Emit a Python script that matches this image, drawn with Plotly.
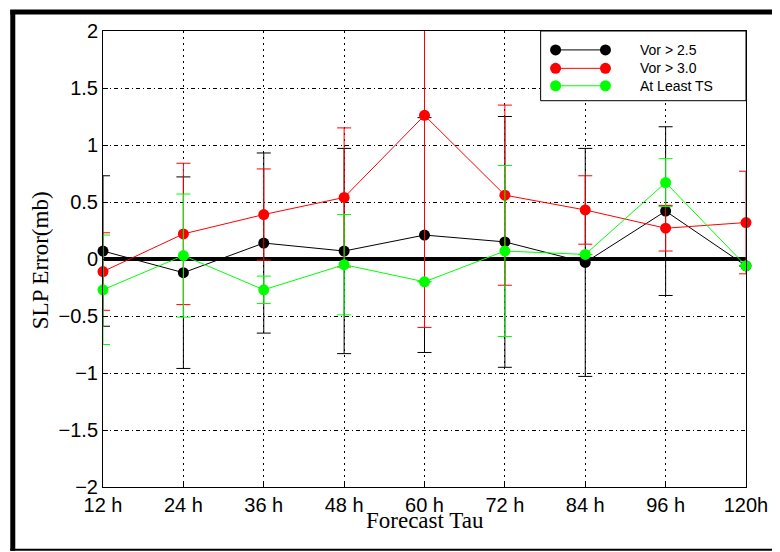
import plotly.graph_objects as go

# ---- data ----
tau_labels = ["12 h", "24 h", "36 h", "48 h", "60 h", "72 h", "84 h", "96 h", "120h"]

vor25 = [0.07, -0.12, 0.14, 0.07, 0.21, 0.15, -0.03, 0.42, -0.06]
vor25_err = [0.66, 0.84, 0.79, 0.90, 1.03, 1.10, 1.00, 0.74, None]

vor30 = [-0.11, 0.22, 0.39, 0.54, 1.26, 0.56, 0.43, 0.27, 0.32]
vor30_err = [0.34, 0.62, 0.40, 0.61, 1.86, 0.79, 0.30, 0.20, 0.45]

ts = [-0.27, 0.03, -0.27, -0.05, -0.20, 0.07, 0.04, 0.67, -0.06]
ts_err = [0.48, 0.54, 0.12, 0.44, None, 0.75, None, 0.21, None]

series_names = ["Vor > 2.5", "Vor > 3.0", "At Least TS"]
series_colors = ["#000000", "#ff0000", "#00ff00"]

# ---- geometry (pixels, in the 780x552 window) ----
OFF = 8  # page body margin
W, H = 780 - OFF, 552 - OFF
L, R, T, B = 103, 748, 29, 487
PW, PH = R - L, B - T


def px(x):
    return (x - L) / PW


def py(y):
    return (B - y) / PH


fig = go.Figure()

for vals, errs, col in zip([vor25, vor30, ts], [vor25_err, vor30_err, ts_err], series_colors):
    # error bars (clipped to the axes)
    fig.add_trace(go.Scatter(
        x=tau_labels, y=vals, mode="markers",
        marker=dict(size=1, color="rgba(0,0,0,0)"),
        error_y=dict(type="data", array=errs, visible=True, color=col, thickness=1, width=7),
        showlegend=False, hoverinfo="skip", cliponaxis=True,
    ))
    # line and markers
    fig.add_trace(go.Scatter(
        x=tau_labels, y=vals, mode="lines+markers",
        line=dict(color=col, width=1),
        marker=dict(size=11, color=col),
        showlegend=False, cliponaxis=False,
    ))

shapes = []
# legend box
shapes.append(dict(type="rect", xref="paper", yref="paper",
                   x0=px(542), x1=px(748), y0=py(99), y1=py(29),
                   fillcolor="white", line=dict(color="black", width=1), layer="above"))
annotations = []
for i, (name, col) in enumerate(zip(series_names, series_colors)):
    yy = [48, 66.5, 84][i]
    shapes.append(dict(type="line", xref="paper", yref="paper",
                       x0=px(557), x1=px(607), y0=py(yy), y1=py(yy),
                       line=dict(color=col, width=1), layer="above"))
    for cx in (557, 607):
        shapes.append(dict(type="circle", xref="paper", yref="paper",
                           xsizemode="pixel", ysizemode="pixel",
                           xanchor=px(cx), yanchor=py(yy),
                           x0=-5.5, x1=5.5, y0=-5.5, y1=5.5,
                           fillcolor=col, line=dict(color=col, width=0), layer="above"))
    annotations.append(dict(xref="paper", yref="paper", x=px(640), y=py(yy),
                            xanchor="left", yanchor="middle", showarrow=False,
                            text=name, font=dict(family="Liberation Sans, Arial", size=14, color="black")))

# outer frame
shapes.append(dict(type="line", xref="paper", yref="paper", x0=px(12.5), x1=px(12.5), y0=py(8), y1=py(551),
                   line=dict(color="black", width=5)))
shapes.append(dict(type="line", xref="paper", yref="paper", x0=px(10), x1=px(795), y0=py(10), y1=py(10),
                   line=dict(color="black", width=5)))
shapes.append(dict(type="line", xref="paper", yref="paper", x0=px(10), x1=px(795), y0=py(550), y1=py(550),
                   line=dict(color="black", width=2)))

# axis titles
annotations.append(dict(xref="paper", yref="paper", x=px(41), y=py(259), textangle=-90,
                        xanchor="center", yanchor="middle", showarrow=False,
                        text="SLP Error(mb)", font=dict(family="Liberation Serif, Times New Roman", size=23, color="black")))
annotations.append(dict(xref="paper", yref="paper", x=px(426), y=py(521),
                        xanchor="center", yanchor="middle", showarrow=False,
                        text="Forecast Tau", font=dict(family="Liberation Serif, Times New Roman", size=23, color="black")))

fig.update_layout(
    width=W, height=H,
    margin=dict(l=L - OFF, r=780 - R, t=T - OFF, b=552 - B, pad=0),
    paper_bgcolor="white", plot_bgcolor="white",
    font=dict(family="Liberation Sans, Arial", size=20, color="black"),
    shapes=shapes, annotations=annotations,
    showlegend=False,
)
fig.update_xaxes(
    type="category", range=[0, 8],
    showline=True, mirror=True, linecolor="black", linewidth=1,
    ticks="inside", ticklen=5, tickcolor="black",
    showgrid=True, gridcolor="black", gridwidth=1, griddash="2px,4px",
    zeroline=False, tickfont=dict(size=20),
)
fig.update_yaxes(
    range=[-2, 2], tickvals=[-2, -1.5, -1, -0.5, 0, 0.5, 1, 1.5, 2],
    showline=True, mirror=True, linecolor="black", linewidth=1,
    ticks="inside", ticklen=5, tickcolor="black",
    showgrid=True, gridcolor="black", gridwidth=1, griddash="4px,3px,1px,3px",
    zeroline=True, zerolinecolor="black", zerolinewidth=3.5,
    tickfont=dict(size=20),
)

fig.write_html("out.html")
